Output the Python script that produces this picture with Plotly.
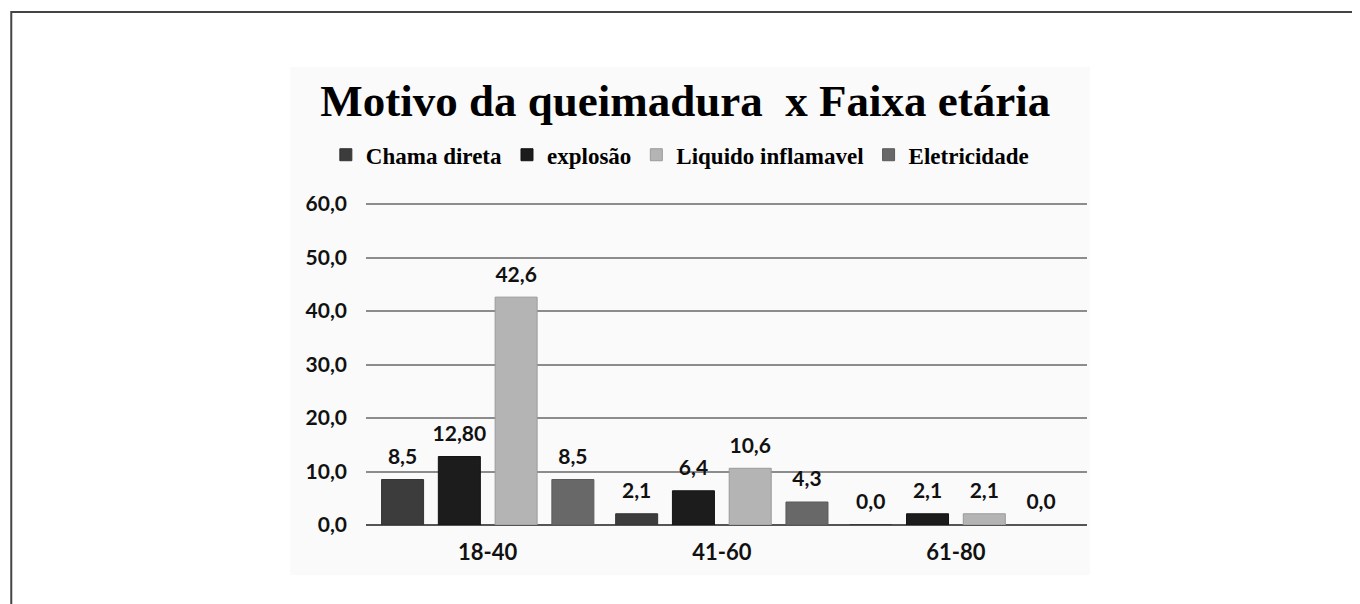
import plotly.graph_objects as go

# -----------------------
# Data
# -----------------------
faixas = ["18-40", "41-60", "61-80"]
motivos = ["Chama direta", "explosão", "Liquido inflamavel", "Eletricidade"]
chama_direta = [8.5, 2.1, 0.0]
explosao = [12.8, 6.4, 2.1]
liquido_inflamavel = [42.6, 10.6, 2.1]
eletricidade = [8.5, 4.3, 0.0]
rotulos = [
    ["8,5", "2,1", "0,0"],
    ["12,80", "6,4", "2,1"],
    ["42,6", "10,6", "2,1"],
    ["8,5", "4,3", "0,0"],
]
y_ticks = [0, 10, 20, 30, 40, 50, 60]
y_tick_labels = ["0,0", "10,0", "20,0", "30,0", "40,0", "50,0", "60,0"]

cores = ["#3c3c3c", "#1c1c1c", "#b4b4b4", "#686868"]
bordas = ["#333333", "#141414", "#9a9a9a", "#5a5a5a"]

sans = "Lato"
serif = "Liberation Serif"

# -----------------------
# Create Plotly chart
# -----------------------
fig = go.Figure()
series = [chama_direta, explosao, liquido_inflamavel, eletricidade]
for nome, valores, cor, borda in zip(motivos, series, cores, bordas):
    fig.add_trace(go.Bar(
        x=faixas, y=valores, name=nome,
        marker=dict(color=cor, line=dict(color=borda, width=1)),
        hoverinfo="skip",
    ))

# value labels: grouped scatter text sitting a little above each bar
for nome, valores, texto in zip(motivos, series, rotulos):
    fig.add_trace(go.Scatter(
        x=faixas, y=valores, text=texto, mode="markers+text",
        textposition="top center", cliponaxis=False, showlegend=False,
        marker=dict(size=15, opacity=0), hoverinfo="skip",
        textfont=dict(family=sans, size=21, color="#111111", weight="bold"),
    ))

fig.update_layout(
    width=1360, height=604,
    margin=dict(l=358, r=281, t=195, b=87),
    paper_bgcolor="white", plot_bgcolor="rgba(0,0,0,0)",
    barmode="group", bargap=0.03, bargroupgap=0.26,
    scattermode="group", scattergap=0.03,
    title=dict(
        text="<b>Motivo da queimadura  x Faixa etária</b>",
        x=0.498, xanchor="center", xref="container",
        y=0.848, yanchor="middle", yref="container",
        font=dict(family=serif, size=45, color="#000000"),
    ),
    legend=dict(
        orientation="h", x=0.494, xanchor="center", xref="container",
        y=0.757, yanchor="middle", yref="container",
        font=dict(family=serif, size=23, color="#000000", weight="bold"),
        itemwidth=30, tracegroupgap=0, bgcolor="rgba(0,0,0,0)",
    ),
    xaxis=dict(
        type="category", range=[-0.52, 2.56],
        showgrid=False, showline=False, zeroline=False, ticks="",
        ticklabelstandoff=12,
        tickfont=dict(family=sans, size=22, color="#111111", weight="bold"),
    ),
    yaxis=dict(
        range=[0, 60.2], tickvals=y_ticks, ticktext=y_tick_labels,
        showgrid=True, gridcolor="#8c8c8c", gridwidth=2,
        zeroline=True, zerolinecolor="#555555", zerolinewidth=2,
        showline=False, ticks="", ticklabelstandoff=18,
        tickfont=dict(family=sans, size=21, color="#111111", weight="bold"),
    ),
    shapes=[
        # faint chart background
        dict(type="rect", xref="paper", yref="paper", layer="below",
             x0=-0.105, x1=1.004, y0=-0.155, y1=1.422,
             fillcolor="#fafafa", line=dict(width=0)),
        # page border
        dict(type="rect", xref="paper", yref="paper", layer="above",
             x0=-0.492, x1=1.5, y0=-0.5, y1=1.593,
             line=dict(color="#444444", width=2)),
    ],
    showlegend=True,
)

fig.write_html("out.html")
